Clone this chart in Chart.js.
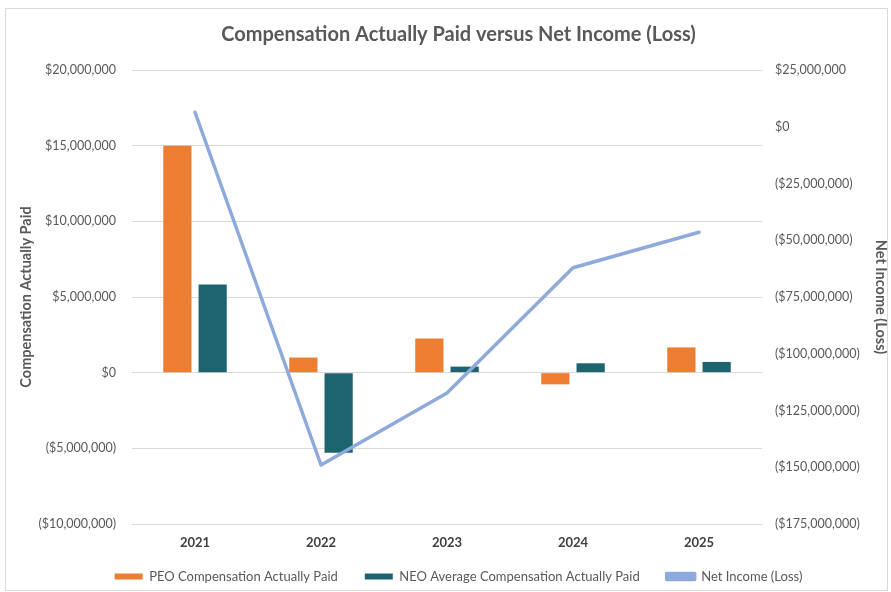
<!DOCTYPE html>
<html>
<head>
<meta charset="utf-8">
<script src="https://cdn.jsdelivr.net/npm/chart.js@4.4.1/dist/chart.umd.min.js"></script>
<style>
    html, body { margin: 0; padding: 0; background: #fff; }
    #wrap { position: relative; width: 891px; height: 592px; }
    #frame {
        position: absolute; left: 5px; top: 8px; width: 881px; height: 581px;
        border: 1px solid #d9d9d9; pointer-events: none;
    }
</style>
</head>
<body>
<div id="wrap">
    <canvas id="chart" width="891" height="592"></canvas>
    <div id="frame"></div>
</div>
<script>
// ===================== DATA =====================
const years = ['2021', '2022', '2023', '2024', '2025'];
const peoCap = [15000000, 1000000, 2250000, -770000, 1670000];
const neoCap = [5820000, -5300000, 400000, 620000, 710000];
const netIncome = [6400000, -149000000, -117300000, -62100000, -46500000];

const leftMin = -10000000, leftMax = 20000000, leftStep = 5000000;
const rightMin = -175000000, rightMax = 25000000, rightStep = 25000000;

// ===================== HELPERS =====================
function money(v) {
    const s = '$' + Math.abs(v).toLocaleString('en-US');
    return v < 0 ? '(' + s + ')' : s;
}

const FONT = 'Lato, "Open Sans", sans-serif';
const GREY = '#595959';

// legend: keep the wide item spacing without the extra vertical space
const legendFit = {
    id: 'legendFit',
    beforeLayout(chart) {
        const lg = chart.legend;
        if (lg && !lg._wrapped) {
            const fit = lg.fit;
            lg.fit = function () {
                fit.call(this);
                this.height = 38;
            };
            lg._wrapped = true;
        }
    },
    afterLayout(chart) {
        // pull the items up a bit, keep the bottom so nothing gets clipped
        const lg = chart.legend;
        if (lg) lg.top -= 11;
    }
};

// ===================== CHART =====================
new Chart(document.getElementById('chart'), {
    type: 'bar',
    data: {
        labels: years,
        datasets: [
            {
                label: 'PEO Compensation Actually Paid',
                data: peoCap,
                backgroundColor: '#ED7D31',
                yAxisID: 'y',
                order: 1,
                categoryPercentage: 0.56,
                barPercentage: 0.8
            },
            {
                label: 'NEO Average Compensation Actually Paid',
                data: neoCap,
                backgroundColor: '#1E6370',
                yAxisID: 'y',
                order: 1,
                categoryPercentage: 0.56,
                barPercentage: 0.8
            },
            {
                type: 'line',
                label: 'Net Income (Loss)',
                data: netIncome,
                yAxisID: 'y1',
                order: 0,
                borderColor: '#8EA9DB',
                backgroundColor: '#8EA9DB',
                borderWidth: 3.5,
                borderCapStyle: 'round',
                borderJoinStyle: 'round',
                pointRadius: 0,
                tension: 0,
                fill: false
            }
        ]
    },
    options: {
        responsive: false,
        animation: false,
        devicePixelRatio: 1,
        layout: { padding: { left: 26, right: 0, top: 10, bottom: 0 } },
        plugins: {
            title: {
                display: true,
                text: 'Compensation Actually Paid versus Net Income (Loss)',
                color: GREY,
                font: { family: FONT, size: 20, weight: 'bold', lineHeight: 1.2 },
                padding: { top: 13, bottom: 23 }
            },
            legend: {
                position: 'bottom',
                labels: {
                    color: GREY,
                    font: { family: FONT, size: 13 },
                    boxWidth: 28,
                    boxHeight: 6,
                    padding: 27,
                    sort: (a, b) => a.datasetIndex - b.datasetIndex
                }
            },
            tooltip: { enabled: false }
        },
        scales: {
            x: {
                grid: { display: false, drawTicks: false },
                border: { display: false },
                ticks: {
                    color: '#404040',
                    font: { family: FONT, size: 13, weight: 'bold' },
                    padding: 11
                },
                afterFit(scale) { scale.height = 30; }
            },
            y: {
                position: 'left',
                min: leftMin,
                max: leftMax,
                grid: { color: '#d9d9d9', lineWidth: 1, drawTicks: false },
                border: { display: false },
                ticks: {
                    stepSize: leftStep,
                    color: GREY,
                    font: { family: FONT, size: 12.5 },
                    padding: 16,
                    callback: v => money(v)
                },
                title: {
                    display: true,
                    text: 'Compensation Actually Paid',
                    color: GREY,
                    font: { family: FONT, size: 14.5, weight: 'bold' },
                    padding: { top: -8, bottom: 0 }
                },
                afterFit(scale) { scale.width = 106; }
            },
            y1: {
                position: 'right',
                min: rightMin,
                max: rightMax,
                grid: { display: false, drawTicks: false },
                border: { display: false },
                ticks: {
                    stepSize: rightStep,
                    color: GREY,
                    font: { family: FONT, size: 12.5 },
                    padding: 13,
                    callback: v => money(v)
                },
                title: {
                    display: true,
                    text: 'Net Income (Loss)',
                    color: GREY,
                    font: { family: FONT, size: 14.5, weight: 'bold' },
                    padding: { top: 2, bottom: 0 }
                },
                afterFit(scale) { scale.width = 129; }
            }
        }
    },
    plugins: [legendFit]
});
</script>
</body>
</html>
